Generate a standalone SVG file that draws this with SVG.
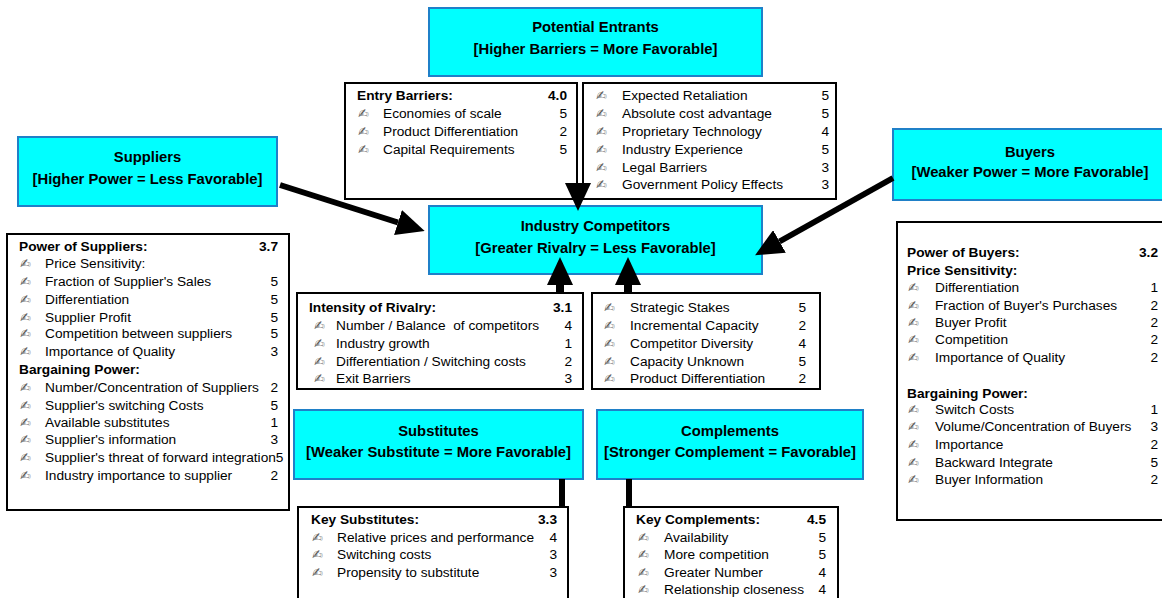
<svg xmlns="http://www.w3.org/2000/svg" width="1162" height="598" viewBox="0 0 1162 598">
  <style>
    text { font-family: "Liberation Sans", Arial, sans-serif; fill: #000; white-space: pre; }
    .title { font-size: 14.8px; font-weight: bold; text-anchor: middle; }
    .hd { font-size: 13.7px; font-weight: bold; }
    .it { font-size: 13.7px; }
    .num { font-size: 13.7px; text-anchor: end; }
    .numb { font-size: 13.7px; font-weight: bold; text-anchor: end; }
    .bul { font-family: "DejaVu Sans", sans-serif; font-size: 13px; fill: #5a5a5a; }
    .force { fill: #00FFFF; stroke: #1F80C8; stroke-width: 2; }
    .list { fill: #FFFFFF; stroke: #000; stroke-width: 2; }
    .conn { stroke: #000; fill: none; }
  </style>
  <defs>
    <marker id="head" markerUnits="userSpaceOnUse" viewBox="0 0 28 26" markerWidth="28" markerHeight="26" refX="0" refY="13" orient="auto">
      <path d="M0,0 L28,13 L0,26 z" fill="#000"/>
    </marker>
  </defs>

  <rect width="1162" height="598" fill="#FFFFFF"/>

  <!-- Potential Entrants -->
  <g id="entrants">
    <rect class="force" x="429" y="8" width="333" height="68"/>
    <text class="title" x="595.5" y="32">Potential Entrants</text>
    <text class="title" x="595.5" y="54">[Higher Barriers = More Favorable]</text>
  </g>

  <g id="entry-barriers">
    <rect class="list" x="345" y="83" width="232" height="116"/>
    <text class="hd" x="357" y="100">Entry Barriers:</text>
    <text class="numb" x="567" y="100">4.0</text>
    <text class="bul" x="358" y="118">✍</text><text class="it" x="383" y="118">Economies of scale</text><text class="num" x="567" y="118">5</text>
    <text class="bul" x="358" y="136">✍</text><text class="it" x="383" y="136">Product Differentiation</text><text class="num" x="567" y="136">2</text>
    <text class="bul" x="358" y="154">✍</text><text class="it" x="383" y="154">Capital Requirements</text><text class="num" x="567" y="154">5</text>
  </g>

  <g id="entry-barriers-more">
    <rect class="list" x="583" y="83" width="253" height="116"/>
    <text class="bul" x="596" y="100">✍</text><text class="it" x="622" y="100">Expected Retaliation</text><text class="num" x="829" y="100">5</text>
    <text class="bul" x="596" y="118">✍</text><text class="it" x="622" y="118">Absolute cost advantage</text><text class="num" x="829" y="118">5</text>
    <text class="bul" x="596" y="136">✍</text><text class="it" x="622" y="136">Proprietary Technology</text><text class="num" x="829" y="136">4</text>
    <text class="bul" x="596" y="154">✍</text><text class="it" x="622" y="154">Industry Experience</text><text class="num" x="829" y="154">5</text>
    <text class="bul" x="596" y="172">✍</text><text class="it" x="622" y="172">Legal Barriers</text><text class="num" x="829" y="172">3</text>
    <text class="bul" x="596" y="189">✍</text><text class="it" x="622" y="189">Government Policy Effects</text><text class="num" x="829" y="189">3</text>
  </g>

  <!-- Suppliers -->
  <g id="suppliers">
    <rect class="force" x="18" y="137" width="259" height="69"/>
    <text class="title" x="147.5" y="162">Suppliers</text>
    <text class="title" x="147.5" y="184">[Higher Power = Less Favorable]</text>
  </g>

  <g id="supplier-power">
    <rect class="list" x="7" y="234" width="282" height="276"/>
    <text class="hd" x="19" y="251">Power of Suppliers:</text>
    <text class="numb" x="278" y="251">3.7</text>
    <text class="bul" x="20" y="268">✍</text><text class="it" x="45" y="268">Price Sensitivity:</text>
    <text class="bul" x="20" y="286">✍</text><text class="it" x="45" y="286">Fraction of Supplier's Sales</text><text class="num" x="278" y="286">5</text>
    <text class="bul" x="20" y="304">✍</text><text class="it" x="45" y="304">Differentiation</text><text class="num" x="278" y="304">5</text>
    <text class="bul" x="20" y="322">✍</text><text class="it" x="45" y="322">Supplier Profit</text><text class="num" x="278" y="322">5</text>
    <text class="bul" x="20" y="338">✍</text><text class="it" x="45" y="338">Competition between suppliers</text><text class="num" x="278" y="338">5</text>
    <text class="bul" x="20" y="356">✍</text><text class="it" x="45" y="356">Importance of Quality</text><text class="num" x="278" y="356">3</text>
    <text class="hd" x="19" y="374">Bargaining Power:</text>
    <text class="bul" x="20" y="392">✍</text><text class="it" x="45" y="392">Number/Concentration of Suppliers</text><text class="num" x="278" y="392">2</text>
    <text class="bul" x="20" y="410">✍</text><text class="it" x="45" y="410">Supplier's switching Costs</text><text class="num" x="278" y="410">5</text>
    <text class="bul" x="20" y="427">✍</text><text class="it" x="45" y="427">Available substitutes</text><text class="num" x="278" y="427">1</text>
    <text class="bul" x="20" y="444">✍</text><text class="it" x="45" y="444">Supplier's information</text><text class="num" x="278" y="444">3</text>
    <text class="bul" x="20" y="462">✍</text><text class="it" x="45" y="462">Supplier's threat of forward integration5</text>
    <text class="bul" x="20" y="480">✍</text><text class="it" x="45" y="480">Industry importance to supplier</text><text class="num" x="278" y="480">2</text>
  </g>

  <!-- Buyers -->
  <g id="buyers">
    <rect class="force" x="893" y="129" width="274" height="71"/>
    <text class="title" x="1030" y="157">Buyers</text>
    <text class="title" x="1030" y="177">[Weaker Power = More Favorable]</text>
  </g>

  <g id="buyer-power">
    <rect class="list" x="897" y="222" width="270" height="298"/>
    <text class="hd" x="907" y="257">Power of Buyers:</text>
    <text class="numb" x="1158" y="257">3.2</text>
    <text class="hd" x="907" y="275">Price Sensitivity:</text>
    <text class="bul" x="908" y="292">✍</text><text class="it" x="935" y="292">Differentiation</text><text class="num" x="1158" y="292">1</text>
    <text class="bul" x="908" y="310">✍</text><text class="it" x="935" y="310">Fraction of Buyer's Purchases</text><text class="num" x="1158" y="310">2</text>
    <text class="bul" x="908" y="327">✍</text><text class="it" x="935" y="327">Buyer Profit</text><text class="num" x="1158" y="327">2</text>
    <text class="bul" x="908" y="344">✍</text><text class="it" x="935" y="344">Competition</text><text class="num" x="1158" y="344">2</text>
    <text class="bul" x="908" y="362">✍</text><text class="it" x="935" y="362">Importance of Quality</text><text class="num" x="1158" y="362">2</text>
    <text class="hd" x="907" y="398">Bargaining Power:</text>
    <text class="bul" x="908" y="414">✍</text><text class="it" x="935" y="414">Switch Costs</text><text class="num" x="1158" y="414">1</text>
    <text class="bul" x="908" y="431">✍</text><text class="it" x="935" y="431">Volume/Concentration of Buyers</text><text class="num" x="1158" y="431">3</text>
    <text class="bul" x="908" y="449">✍</text><text class="it" x="935" y="449">Importance</text><text class="num" x="1158" y="449">2</text>
    <text class="bul" x="908" y="467">✍</text><text class="it" x="935" y="467">Backward Integrate</text><text class="num" x="1158" y="467">5</text>
    <text class="bul" x="908" y="484">✍</text><text class="it" x="935" y="484">Buyer Information</text><text class="num" x="1158" y="484">2</text>
  </g>

  <!-- Industry Competitors -->
  <g id="competitors">
    <rect class="force" x="429" y="206" width="333" height="68"/>
    <text class="title" x="595.5" y="231">Industry Competitors</text>
    <text class="title" x="595.5" y="253">[Greater Rivalry = Less Favorable]</text>
  </g>

  <g id="rivalry">
    <rect class="list" x="297" y="293" width="286" height="96"/>
    <text class="hd" x="309" y="312">Intensity of Rivalry:</text>
    <text class="numb" x="572" y="312">3.1</text>
    <text class="bul" x="314" y="330">✍</text><text class="it" x="336" y="330">Number / Balance  of competitors</text><text class="num" x="572" y="330">4</text>
    <text class="bul" x="314" y="348">✍</text><text class="it" x="336" y="348">Industry growth</text><text class="num" x="572" y="348">1</text>
    <text class="bul" x="314" y="366">✍</text><text class="it" x="336" y="366">Differentiation / Switching costs</text><text class="num" x="572" y="366">2</text>
    <text class="bul" x="314" y="383">✍</text><text class="it" x="336" y="383">Exit Barriers</text><text class="num" x="572" y="383">3</text>
  </g>

  <g id="rivalry-more">
    <rect class="list" x="592" y="293" width="228" height="96"/>
    <text class="bul" x="604" y="312">✍</text><text class="it" x="630" y="312">Strategic Stakes</text><text class="num" x="806" y="312">5</text>
    <text class="bul" x="604" y="330">✍</text><text class="it" x="630" y="330">Incremental Capacity</text><text class="num" x="806" y="330">2</text>
    <text class="bul" x="604" y="348">✍</text><text class="it" x="630" y="348">Competitor Diversity</text><text class="num" x="806" y="348">4</text>
    <text class="bul" x="604" y="366">✍</text><text class="it" x="630" y="366">Capacity Unknown</text><text class="num" x="806" y="366">5</text>
    <text class="bul" x="604" y="383">✍</text><text class="it" x="630" y="383">Product Differentiation</text><text class="num" x="806" y="383">2</text>
  </g>

  <!-- Substitutes -->
  <g id="substitutes">
    <rect class="force" x="294" y="410" width="289" height="69"/>
    <text class="title" x="438.5" y="436">Substitutes</text>
    <text class="title" x="438.5" y="457">[Weaker Substitute = More Favorable]</text>
  </g>

  <g id="key-substitutes">
    <rect class="list" x="298" y="507" width="270" height="100"/>
    <text class="hd" x="311" y="524">Key Substitutes:</text>
    <text class="numb" x="557" y="524">3.3</text>
    <text class="bul" x="312" y="542">✍</text><text class="it" x="337" y="542">Relative prices and performance</text><text class="num" x="557" y="542">4</text>
    <text class="bul" x="312" y="559">✍</text><text class="it" x="337" y="559">Switching costs</text><text class="num" x="557" y="559">3</text>
    <text class="bul" x="312" y="577">✍</text><text class="it" x="337" y="577">Propensity to substitute</text><text class="num" x="557" y="577">3</text>
  </g>

  <!-- Complements -->
  <g id="complements">
    <rect class="force" x="597" y="410" width="266" height="69"/>
    <text class="title" x="730" y="436">Complements</text>
    <text class="title" x="730" y="457">[Stronger Complement = Favorable]</text>
  </g>

  <g id="key-complements">
    <rect class="list" x="624" y="507" width="214" height="100"/>
    <text class="hd" x="636" y="524">Key Complements:</text>
    <text class="numb" x="826" y="524">4.5</text>
    <text class="bul" x="638" y="542">✍</text><text class="it" x="664" y="542">Availability</text><text class="num" x="826" y="542">5</text>
    <text class="bul" x="638" y="559">✍</text><text class="it" x="664" y="559">More competition</text><text class="num" x="826" y="559">5</text>
    <text class="bul" x="638" y="577">✍</text><text class="it" x="664" y="577">Greater Number</text><text class="num" x="826" y="577">4</text>
    <text class="bul" x="638" y="594">✍</text><text class="it" x="664" y="594">Relationship closeness</text><text class="num" x="826" y="594">4</text>
  </g>

  <!-- Connectors -->
  <g id="connectors" class="conn">
    <line x1="280" y1="185" x2="398" y2="222.5" stroke-width="6" marker-end="url(#head)"/>
    <line x1="893" y1="178" x2="779.5" y2="241.5" stroke-width="6" marker-end="url(#head)"/>
    <path d="M578,180 L578,183" stroke="none" marker-end="url(#head)"/>
    <line x1="560" y1="293" x2="560" y2="285" stroke-width="8" marker-end="url(#head)"/>
    <line x1="628" y1="293" x2="628" y2="285" stroke-width="8" marker-end="url(#head)"/>
    <line x1="562" y1="479" x2="562" y2="507" stroke-width="6"/>
    <line x1="629" y1="479" x2="629" y2="507" stroke-width="6"/>
  </g>
</svg>
